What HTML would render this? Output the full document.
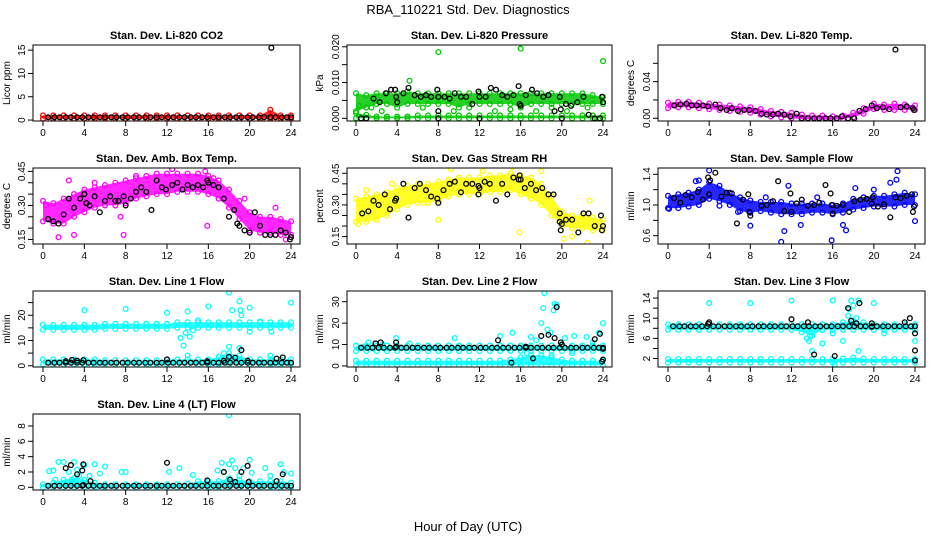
<!DOCTYPE html>
<html><head><meta charset="utf-8"><style>
body{margin:0;background:#fff}
svg{display:block;font-family:"Liberation Sans",sans-serif}
</style></head><body>
<svg id="chart" width="936" height="540" viewBox="0 0 936 540" xmlns="http://www.w3.org/2000/svg">
<rect width="936" height="540" fill="#fff"/>
<text x="468" y="14" text-anchor="middle" font-size="13">RBA_110221  Std. Dev. Diagnostics</text>
<text x="468" y="531" text-anchor="middle" font-size="13">Hour of Day (UTC)</text>
<g id="panels"></g>
</svg>
<script>
const hours = [0,1,2,3,4,5,6,7,8,9,10,11,12,13,14,15,16,17,18,19,20,21,22,23,24];
const xTicks = [0,4,8,12,16,20,24];
const baseHours = [0.5,1.1,1.6,2.2,2.7,3.3,3.8,4.4,4.9,5.5,6.0,6.6,7.1,7.7,8.2,8.8,9.3,9.9,10.4,11.0,11.5,12.1,12.6,13.2,13.7,14.3,14.8,15.4,15.9,16.5,17.0,17.6,18.1,18.7,19.2,19.8,20.3,20.9,21.4,22.0,22.5,23.1,23.6,24.0];

// CO2
const co2Lo = [0.3,0.3,0.3,0.3,0.3,0.3,0.3,0.3,0.3,0.3,0.3,0.3,0.3,0.3,0.3,0.3,0.3,0.3,0.3,0.3,0.3,0.3,0.3,0.3,0.3];
const co2Hi = [1,1,1,1,1,1,1,1,1,1,1,1,1,1,1,1,1,1,1,1,1,1,2.2,1,1];
const co2BaseLevel = 0.6;
const co2BlackX = [22.1];
const co2BlackY = [15.5];
// Pressure
const presLo = [0.002,0.003,0.004,0.004,0.003,0.004,0.004,0.004,0.004,0.004,0.003,0.004,0.004,0.004,0.004,0.004,0.003,0.004,0.004,0.004,0.004,0.004,0.004,0.004,0.004];
const presHi = [0.007,0.0065,0.007,0.007,0.007,0.0075,0.007,0.007,0.007,0.007,0.007,0.007,0.007,0.007,0.007,0.007,0.007,0.007,0.007,0.007,0.007,0.007,0.007,0.0065,0.006];
const presLo2 = [0,0,0,0,0,0,0,0,0,0,0,0,0,0,0,0,0,0,0,0,0,0,0,0,0];
const presHi2 = [0.0015,0.001,0.0005,0.0005,0.0005,0.0005,0.0008,0.0008,0.0008,0.0008,0.0008,0.0008,0.0008,0.0008,0.0008,0.0008,0.0008,0.0008,0.0008,0.0008,0.0008,0.0008,0.0008,0.0008,0.0008];
const presExX = [8,16,24,5.2,0.3,1.5,2.5,6.5,9.5,11,13.5,15,17.5,19,20.5,22.5];
const presExY = [0.0185,0.0195,0.016,0.0105,0.0035,0.003,0.002,0.003,0.002,0.003,0.002,0.0025,0.002,0.003,0.002,0.003];
const presBlackX = [0.5,1,1.7,2.3,2.9,3.4,3.8,3.9,4,4.6,5.1,5.7,6.3,6.8,7.3,7.9,8,8,8,8.6,9.1,9.6,10.2,10.7,11.3,11.9,12,12,12.6,13.1,13.6,14.2,14.7,15.3,15.8,15.9,16,16.5,17.1,17.6,18.2,18.7,19.3,19.8,19.9,20,20.4,20.9,21.5,22.1,22.6,23.2,23.7,23.9,24];
const presBlackY = [0,0,0.0055,0.0045,0.007,0.008,0.008,0.006,0.0045,0.007,0.0085,0.0065,0.006,0.0065,0.006,0.008,0.006,0.002,0,0.006,0.0055,0.007,0.006,0.006,0.004,0.0075,0.006,0,0.006,0.0085,0.008,0.0065,0.006,0.0065,0.009,0.004,0.0035,0.0065,0.008,0.007,0.006,0.0065,0.002,0.006,0.0025,0,0.004,0.0035,0.0045,0.006,0.001,0,0,0.006,0.0045];
// Li-820 Temp
const tempLo = [0.011,0.012,0.012,0.011,0.010,0.009,0.008,0.007,0.006,0.004,0.002,0.001,0.000,-0.001,-0.001,-0.001,-0.001,-0.001,0.001,0.005,0.010,0.009,0.009,0.009,0.009];
const tempHi = [0.017,0.018,0.018,0.017,0.016,0.015,0.014,0.013,0.012,0.010,0.008,0.007,0.006,0.004,0.003,0.003,0.002,0.003,0.006,0.011,0.016,0.015,0.016,0.015,0.014];
const tempBlackX = [0.6,1.2,1.8,2.3,2.8,3.4,3.9,4.6,5.1,5.7,6.2,6.8,7.4,7.9,8.5,9.1,9.6,10.2,10.7,11.3,11.9,12.5,13,13.6,14.2,14.7,15.3,15.8,16.4,16.9,17.5,18.1,18.6,19.2,19.8,20.3,20.9,21.5,22.1,22.6,23.2,23.8,23.9];
const tempBlackY = [0.014,0.015,0.016,0.014,0.014,0.014,0.013,0.015,0.011,0.009,0.011,0.008,0.009,0.009,0.008,0.005,0.004,0.004,0.005,0.004,0.002,0.005,0,0,0,0,0,0,0,0.002,0,0,0.008,0.010,0.014,0.011,0.012,0.010,0.075,0.012,0.013,0.011,0.009];
// Amb box temp
const ambLo = [0.23,0.22,0.22,0.25,0.27,0.29,0.30,0.30,0.31,0.33,0.34,0.35,0.35,0.36,0.36,0.36,0.35,0.33,0.29,0.24,0.19,0.18,0.18,0.17,0.17];
const ambHi = [0.32,0.31,0.33,0.35,0.37,0.38,0.39,0.40,0.41,0.42,0.43,0.44,0.44,0.44,0.44,0.44,0.43,0.41,0.37,0.32,0.27,0.25,0.25,0.24,0.23];
const ambExX = [1.5,3,7.8,7.5,15.9,21,23.5,2.5,12.5,15.7,16.5,0.3,5,9,19.5,22.5];
const ambExY = [0.16,0.17,0.17,0.25,0.21,0.12,0.15,0.41,0.46,0.45,0.42,0.30,0.40,0.43,0.33,0.29];
const ambBlackX = [0.5,1,1.5,2,2.5,3,3.6,4,4.2,4.5,5,5.5,6,6.5,7,7.3,7.8,8,8.5,9,9.5,10,10.5,11,11.5,11.9,12.5,13,13.5,14,14.5,15,15.5,15.9,16,16.5,17,17.5,18,18.5,18.8,19,19.5,20,20.5,21,21.5,22,22.5,23,23.5,23.9,24];
const ambBlackY = [0.24,0.23,0.22,0.26,0.33,0.29,0.33,0.35,0.31,0.30,0.34,0.27,0.32,0.34,0.32,0.32,0.34,0.30,0.33,0.36,0.38,0.36,0.28,0.41,0.38,0.37,0.39,0.40,0.37,0.39,0.38,0.39,0.38,0.41,0.40,0.39,0.38,0.33,0.25,0.28,0.22,0.21,0.19,0.18,0.27,0.21,0.17,0.17,0.17,0.19,0.18,0.15,0.16];
// Gas stream RH
const rhLo = [0.22,0.22,0.23,0.25,0.28,0.30,0.31,0.31,0.32,0.34,0.35,0.35,0.35,0.36,0.36,0.37,0.35,0.33,0.30,0.25,0.20,0.19,0.19,0.18,0.18];
const rhHi = [0.33,0.34,0.35,0.36,0.38,0.39,0.40,0.40,0.41,0.42,0.43,0.43,0.43,0.44,0.44,0.45,0.44,0.43,0.40,0.34,0.27,0.25,0.25,0.24,0.23];
const rhExX = [0.2,8,9.2,12.3,15.2,15.9,20.2,21,22.5,22.7,1,3.5,18,6.5];
const rhExY = [0.21,0.23,0.47,0.46,0.48,0.17,0.14,0.15,0.12,0.32,0.37,0.40,0.46,0.31];
const rhBlackX = [0.6,1.2,1.7,2.2,2.8,3.3,3.8,3.9,4.6,5.1,5.7,6.2,6.8,7.3,7.9,8,8.5,9.1,9.6,10.2,10.7,11.3,11.9,12,11.9,12.5,13,13.6,14.2,14.7,15.3,15.8,15.9,16,16.4,17,17.5,18.1,18.7,19.2,19.8,19.8,19.9,20,20.4,21,21.6,22.1,22.6,23.2,23.8,23.9,24];
const rhBlackY = [0.26,0.27,0.32,0.30,0.35,0.28,0.32,0.33,0.40,0.24,0.38,0.40,0.37,0.34,0.33,0.31,0.37,0.40,0.41,0.36,0.40,0.40,0.39,0.38,0.35,0.41,0.40,0.32,0.40,0.35,0.43,0.42,0.44,0.42,0.38,0.40,0.37,0.38,0.35,0.35,0.26,0.22,0.18,0.21,0.23,0.23,0.17,0.26,0.26,0.20,0.25,0.18,0.20];
// Sample flow
const flowLo = [0.96,0.96,0.98,1.0,1.08,1.05,1.0,0.92,0.9,0.92,0.9,0.88,0.88,0.88,0.9,0.9,0.88,0.9,0.94,0.96,0.98,0.98,0.98,1.0,1.0];
const flowHi = [1.12,1.14,1.16,1.2,1.3,1.25,1.16,1.1,1.06,1.04,1.04,1.04,1.02,1.02,1.02,1.02,1.0,1.02,1.08,1.1,1.12,1.12,1.14,1.16,1.14];
const flowExX = [4,3,2.7,6.8,8,11.3,11,11.7,12.9,15.9,17,17.3,18.2,21.6,22.3,22.2,24,0.1,5,9.5,14.5,20];
const flowExY = [1.45,1.32,1.31,0.91,0.73,0.66,0.52,1.25,0.74,0.54,0.74,0.67,1.22,1.29,1.44,1.33,0.79,0.95,0.99,1.1,1.1,1.2];
const flowBlackX = [0.6,1.2,1.7,2.3,2.9,3.4,3.9,4,4.1,4.6,5.2,5.7,6.2,6.7,7.3,7.8,7.9,8,9.1,9.6,10.2,10.7,11.3,11.9,12,12.5,13,13.6,14.2,14.7,15.3,15.8,15.9,16,16.4,17,17.6,18.1,18.7,19.3,19.8,19.9,20.4,21,21.6,22.1,22.6,23.2,23.7,23.8,23.9];
const flowBlackY = [1.09,1.03,1.13,1.10,1.17,1.07,1.36,1.14,1.32,1.42,1.11,1.16,1.15,0.76,1.07,1.14,0.91,0.86,0.99,1.0,1.05,1.31,0.92,1.15,0.91,1.02,1.07,0.99,1.0,1.03,1.26,1.15,1.0,0.89,0.99,1.0,0.91,1.05,1.07,1.08,1.02,1.1,0.98,1.01,0.84,1.10,1.09,1.12,1.14,0.91,0.98];
// Line 1
const l1Lo = [14.2,14.2,14.2,14.2,14.2,14.2,14.6,14.6,14.6,14.6,14.6,14.6,14.6,15,15,15,15,15,15,15,15,15,15,15,15];
const l1Hi = [16.2,16.2,16.2,16.2,16.2,16.2,16.6,16.6,16.6,16.6,16.6,16.6,16.6,17.2,17.2,17.2,17.2,17.2,17.2,17.2,17.2,17.2,17.2,17.2,17.2];
const l1Lo2 = [0.5,0.5,0.5,0.5,0.5,0.5,0.5,0.5,0.5,0.5,0.5,0.5,0.5,0.5,0.5,0.5,0.5,0.5,0.5,0.5,0.5,0.5,0.5,0.5,0.5];
const l1Hi2 = [2.5,2.5,2.5,2.5,2.5,2.5,2.2,2.2,2.2,2.2,2.2,2.2,2.5,2.5,2.5,2.5,2.5,3.5,5,4,2.5,2.5,2.5,2.5,2.5];
const l1ExX = [4,8,12,14,16,13.3,13.6,13.8,14.2,14.5,18,18.3,19,19.1,19.2,20,20,22.1,24,18,19,14,22,17.5,15,21];
const l1ExY = [22,22.5,21,21.5,23.5,11,8,13,11.5,14,29,22,25.5,22,20,23,13.5,13.5,25,7.5,7,4,4,5,18,17.5];
const l1BaseLevel = 1.2;
const l1BlackX = [2.2,2.8,3.3,3.9,12,15.9,17.5,18,18.6,19.2,19.8,22.6,23.2];
const l1BlackY = [1.8,2.3,2,2.2,2.5,1.8,2,3.5,3.2,6.2,2,2.8,3.3];
// Line 2
const l2Lo = [7,7,7,7,7,7,7,7,7,7,7,7,7,7,7,7,7,7,7,7,7,7,7,7,7];
const l2Hi = [9.5,9.5,9.5,9.5,9.5,9.5,9.5,9.5,9.5,9.5,9.5,9.5,9.5,9.5,9.5,9.5,9.5,9.5,9.5,9.5,9.5,9.5,9.5,9.5,9.5];
const l2Lo2 = [0.3,0.3,0.3,0.3,0.3,0.3,0.3,0.3,0.3,0.3,0.3,0.3,0.3,0.3,0.3,0.3,0.3,0.3,0.3,0.3,0.3,0.3,0.3,0.3,0.3];
const l2Hi2 = [2.5,2.5,2.5,2.5,2.5,2.5,2.5,2.5,2.5,2.5,2.5,2.5,2.5,2.5,2.5,3,4,5,5,4,3,2.5,2.5,2.5,2.5];
const l2ExX = [0.8,1.2,2.6,3.9,5.2,9.6,14,15.2,17,17.5,18,18.2,18.3,18.6,18.9,19.2,19.5,19.3,20.3,21.2,22.4,23,23.6,24,21,16.6,19];
const l2ExY = [9,11,10,13,10.5,13,14,15.5,13.5,12,20,27,34,17,15.5,26,28.5,29,13,14,13.5,11,15.5,20,6,6,5];
const l2BaseLevel = 8.5;
const l2BlackX = [1.9,2.4,3.9,3.9,13.8,15.1,16.5,17.2,18,18.7,19.3,19.5,19.9,20,23.2,23.7,24,24,23.9];
const l2BlackY = [10.5,11,11,9,12,1.5,9,3.5,14,14.5,13,27.5,11,10,12.5,15,8,3,2];
// Line 3
const l3Lo = [7.7,7.7,7.7,7.7,7.7,7.7,7.7,7.7,7.7,7.7,7.7,7.7,7.7,7.2,6.5,7.7,7.7,7.7,7.7,7.7,7.7,7.7,7.7,7.7,7.7];
const l3Hi = [8.8,8.8,8.8,8.8,8.8,8.8,8.8,8.8,8.8,8.8,8.8,8.8,8.8,8.8,8.8,8.8,8.8,9.2,9.5,9.2,8.8,8.8,8.8,8.8,8.8];
const l3Lo2 = [1.2,1.2,1.2,1.2,1.2,1.2,1.2,1.2,1.2,1.2,1.2,1.2,1.2,1.2,1.2,1.2,1.2,1.2,1.2,1.2,1.2,1.2,1.2,1.2,1.2];
const l3Hi2 = [1.9,1.9,1.9,1.9,1.9,1.9,1.9,1.9,1.9,1.9,1.9,1.9,1.9,1.9,1.9,1.9,1.9,2,2.2,2,1.9,1.9,1.9,1.9,1.9];
const l3ExX = [4,8,12,16,20,13.5,13.7,13.8,14,17,17.5,17.6,17.8,18,18.5,18.3,15,16,24,18.5,21,16.2];
const l3ExY = [13,13,13.5,13.5,13,6,5.5,6.5,3.5,5.5,10.5,11.8,13.5,12.5,13.5,10,5,7,5.5,3.5,7,0.8];
const l3BaseLevel = 8.4;
const l3BlackX = [3.9,4,12,13.6,14.2,16.2,17.5,17.8,18.3,18.6,19.8,19.8,23,23.5,24,24,24];
const l3BlackY = [8.9,9.2,9.8,9.2,2.8,2.5,12,9.5,9,13,9,8.3,9.2,10,7,3.6,1.6];
// Line 4
const l4Lo = [0,0,0,0,0,0,0,0,0,0,0,0,0,0,0,0,0,0,0,0,0,0,0,0,0];
const l4Hi = [0.4,0.6,1,1.2,1,0.6,0.4,0.4,0.4,0.4,0.4,0.4,0.4,0.4,0.5,0.8,0.8,0.8,1.2,1,0.8,0.8,0.8,0.8,0.6];
const l4ExX = [0.6,1,1.2,1.5,2,2.5,2.8,3,3.3,3.5,4,4.5,5,5.5,6,7.6,8,12.2,13.2,14.5,16.9,17.3,17.5,18,18,18.3,18.6,19,19.4,20,20.2,21.5,22,23,23.3,24];
const l4ExY = [2.1,2.2,1,3.3,3.3,2,1,3.3,2.3,1.5,2.9,1.5,3,1.8,2.7,2,2,2,2.5,1.6,2.2,3.2,2,9.4,3,3.5,2.5,1.5,2.5,3.6,1.9,2.5,1.5,3,2,1.8];
const l4BaseLevel = 0.2;
const l4BlackX = [2.2,2.7,3.3,3.8,3.9,3.9,4.6,12,15.9,17.5,18.1,18.6,19.2,19.8,19.9,22.6,23.2];
const l4BlackY = [2.5,2.9,1.7,2.2,3.0,0.3,0.8,3.2,0.9,2,1,0.7,2,2.8,0.7,0.8,1.7];

const cols = [{l:33,r:300,h0:43,h24:291,yl:10},{l:347,r:612,h0:356,h24:603,yl:323},{l:658,r:925,h0:668,h24:915,yl:634}];
const rows = [{t:45,b:121},{t:168,b:244},{t:291,b:367},{t:414,b:490}];

const panels = [
 {name:'co2',title:'Stan. Dev. Li-820 CO2',ylab:'Licor ppm',c:0,r:0,dom:[-0.2,16.1],color:'#ff0000',ticks:[0,5,10,15],labels:['0','5','10','15'],bands:[[co2Lo,co2Hi]],exX:[],exY:[],base:co2BaseLevel,bx:co2BlackX,by:co2BlackY},
 {name:'pressure',title:'Stan. Dev. Li-820 Pressure',ylab:'kPa',c:1,r:0,dom:[-0.00075,0.0205],color:'#00c800',ticks:[0,0.005,0.01,0.015,0.02],labels:['0.000','','0.010','','0.020'],bands:[[presLo,presHi],[presLo2,presHi2]],exX:presExX,exY:presExY,base:null,bx:presBlackX,by:presBlackY},
 {name:'li820-temp',title:'Stan. Dev. Li-820 Temp.',ylab:'degrees C',c:2,r:0,dom:[-0.003,0.080],color:'#ff00ff',ticks:[0,0.02,0.04,0.06],labels:['0.00','','0.04',''],bands:[[tempLo,tempHi]],exX:[],exY:[],base:null,bx:tempBlackX,by:tempBlackY},
 {name:'amb-box-temp',title:'Stan. Dev. Amb. Box Temp.',ylab:'degrees C',c:0,r:1,dom:[0.13,0.465],color:'#ff00ff',ticks:[0.15,0.2,0.25,0.3,0.35,0.4,0.45],labels:['0.15','','','0.30','','','0.45'],bands:[[ambLo,ambHi]],exX:ambExX,exY:ambExY,base:null,bx:ambBlackX,by:ambBlackY},
 {name:'gas-stream-rh',title:'Stan. Dev. Gas Stream RH',ylab:'percent',c:1,r:1,dom:[0.115,0.475],color:'#ffff00',ticks:[0.15,0.2,0.25,0.3,0.35,0.4,0.45],labels:['0.15','','','0.30','','','0.45'],bands:[[rhLo,rhHi]],exX:rhExX,exY:rhExY,base:null,bx:rhBlackX,by:rhBlackY},
 {name:'sample-flow',title:'Stan. Dev. Sample Flow',ylab:'ml/min',c:2,r:1,dom:[0.492,1.482],color:'#0000ff',ticks:[0.6,0.8,1.0,1.2,1.4],labels:['0.6','','1.0','','1.4'],bands:[[flowLo,flowHi]],exX:flowExX,exY:flowExY,base:null,bx:flowBlackX,by:flowBlackY},
 {name:'line1-flow',title:'Stan. Dev. Line 1 Flow',ylab:'ml/min',c:0,r:2,dom:[-0.5,29.6],color:'#00ffff',ticks:[0,5,10,15,20,25],labels:['0','','10','','20',''],bands:[[l1Lo,l1Hi],[l1Lo2,l1Hi2]],exX:l1ExX,exY:l1ExY,base:l1BaseLevel,bx:l1BlackX,by:l1BlackY},
 {name:'line2-flow',title:'Stan. Dev. Line 2 Flow',ylab:'ml/min',c:1,r:2,dom:[-0.5,35],color:'#00ffff',ticks:[0,10,20,30],labels:['0','10','20','30'],bands:[[l2Lo,l2Hi],[l2Lo2,l2Hi2]],exX:l2ExX,exY:l2ExY,base:l2BaseLevel,bx:l2BlackX,by:l2BlackY},
 {name:'line3-flow',title:'Stan. Dev. Line 3 Flow',ylab:'ml/min',c:2,r:2,dom:[0.32,15.4],color:'#00ffff',ticks:[2,4,6,8,10,12,14],labels:['2','','6','','10','','14'],bands:[[l3Lo,l3Hi],[l3Lo2,l3Hi2]],exX:l3ExX,exY:l3ExY,base:l3BaseLevel,bx:l3BlackX,by:l3BlackY},
 {name:'line4-flow',title:'Stan. Dev. Line 4 (LT) Flow',ylab:'ml/min',c:0,r:3,dom:[-0.35,9.56],color:'#00ffff',ticks:[0,2,4,6,8],labels:['0','2','4','6','8'],bands:[[l4Lo,l4Hi]],exX:l4ExX,exY:l4ExY,base:l4BaseLevel,bx:l4BlackX,by:l4BlackY}
];

const NS='http://www.w3.org/2000/svg';
const root=document.getElementById('panels');
function mk(tag,attrs,parent){const e=document.createElementNS(NS,tag);for(const k in attrs)e.setAttribute(k,attrs[k]);parent.appendChild(e);return e;}

panels.forEach(p=>{
  const C=cols[p.c],R=rows[p.r];
  const xs=h=>C.h0+(h/24)*(C.h24-C.h0);
  const ys=v=>R.b-(v-p.dom[0])/(p.dom[1]-p.dom[0])*(R.b-R.t);
  const g=mk('g',{},root);
  
  
  const clipId='clip-'+p.name;
  const cp=mk('clipPath',{id:clipId},g);
  mk('rect',{x:C.l,y:R.t,width:C.r-C.l,height:R.b-R.t},cp);
  const pts=mk('g',{'clip-path':'url(#'+clipId+')'},g);
  
  
  // colored bands
  p.bands.forEach(([lo,hi])=>{
    let d='';
    hours.forEach((h,i)=>{d+=(i?'L':'M')+xs(h).toFixed(1)+','+ys(hi[i]).toFixed(1);});
    for(let i=hours.length-1;i>=0;i--)d+='L'+xs(hours[i]).toFixed(1)+','+ys(lo[i]).toFixed(1);
    const band=mk('path',{d:d+'Z',fill:p.color,'fill-opacity':0.85},pts);
    
    
    hours.forEach((h,i)=>{
      [lo[i],hi[i]].forEach(v=>{
        const c=mk('circle',{cx:xs(h),cy:ys(v),r:2.4,fill:'none',stroke:p.color,'stroke-width':1.3},pts);
        
        
      });
    });
  });
  p.exX.forEach((h,i)=>{
    const c=mk('circle',{cx:xs(h),cy:ys(p.exY[i]),r:2.4,fill:'none',stroke:p.color,'stroke-width':1.3},pts);
    
    
  });
  if(p.base!==null){
    baseHours.forEach(h=>{
      const c=mk('circle',{cx:xs(h),cy:ys(p.base),r:2.4,fill:'none',stroke:'#000','stroke-width':1.3},pts);
      
      
    });
  }
  p.bx.forEach((h,i)=>{
    const c=mk('circle',{cx:xs(h),cy:ys(p.by[i]),r:2.4,fill:'none',stroke:'#000','stroke-width':1.3},pts);
    
    
  });
  // box
  const box=mk('rect',{x:C.l,y:R.t,width:C.r-C.l,height:R.b-R.t,fill:'none',stroke:'#000','stroke-width':1},g);
  
  
  const t=mk('text',{x:(C.l+C.r)/2,y:R.t-6,'text-anchor':'middle','font-size':11,'font-weight':'bold'},g);
  t.textContent=p.title;
  
  
  // x axis
  const xa=mk('g',{},g);
  
  
  mk('line',{x1:xs(0),x2:xs(24),y1:R.b,y2:R.b,stroke:'#000'},xa);
  xTicks.forEach(h=>{
    mk('line',{x1:xs(h),x2:xs(h),y1:R.b,y2:R.b+5,stroke:'#000'},xa);
    const tl=mk('text',{x:xs(h),y:R.b+15,'text-anchor':'middle','font-size':10},xa);
    tl.textContent=String(h);
    
    
  });
  // y axis
  const ya=mk('g',{},g);
  
  
  p.ticks.forEach((v,i)=>{
    const y=ys(v);
    mk('line',{x1:C.l-5,x2:C.l,y1:y,y2:y,stroke:'#000'},ya);
    if(p.labels[i]){
      const tl=mk('text',{x:C.l-8,y:y,'text-anchor':'middle','font-size':10,transform:'rotate(-90 '+(C.l-8)+' '+y+')'},ya);
      tl.textContent=p.labels[i];
      
      
    }
  });
  mk('line',{x1:C.l,x2:C.l,y1:ys(p.ticks[0]),y2:ys(p.ticks[p.ticks.length-1]),stroke:'#000'},ya);
  const cy=(R.t+R.b)/2;
  const yt=mk('text',{x:C.yl,y:cy,'text-anchor':'middle','font-size':10,transform:'rotate(-90 '+C.yl+' '+cy+')'},g);
  yt.textContent=p.ylab;
  
  
});
</script>
</body></html>
